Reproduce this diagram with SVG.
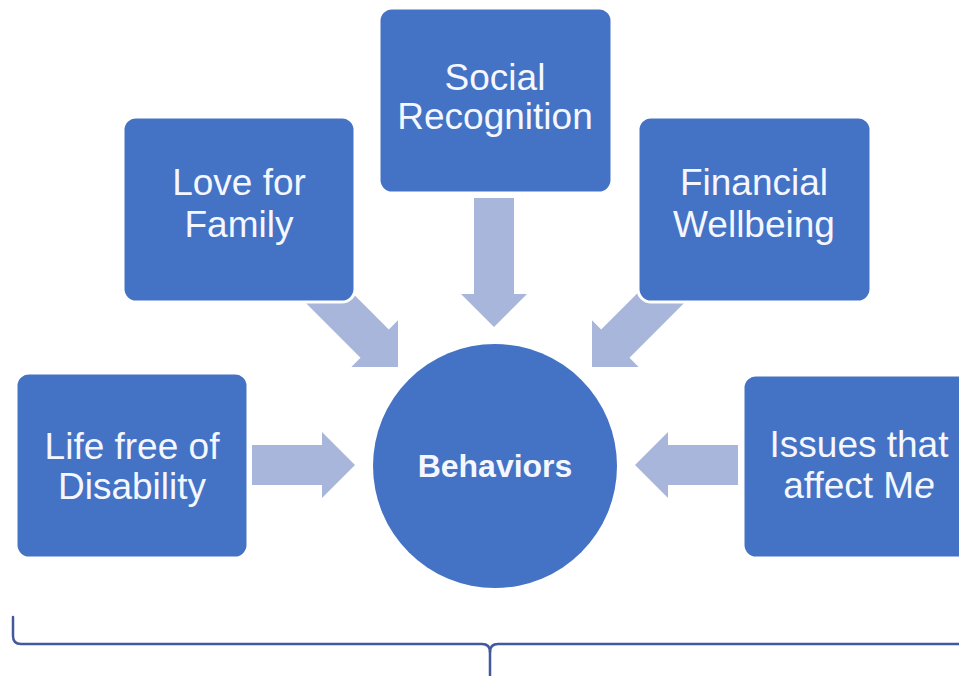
<svg xmlns="http://www.w3.org/2000/svg" width="959" height="676" viewBox="0 0 959 676">
  <style>
    .box { fill: #4472C4; stroke: #ffffff; stroke-width: 3; }
    .arrow { fill: #A9B6DC; }
    .lbl { font-family: "Liberation Sans", Arial, sans-serif; font-size: 37px; fill: #F4F7FF; text-anchor: middle; }
    .bold { font-weight: bold; font-size: 32px; }
    .brace { fill: none; stroke: #42599E; stroke-width: 2.5; stroke-linecap: round; stroke-linejoin: round; }
  </style>
  <rect width="959" height="676" fill="#ffffff"/>

  <g id="connectors">
    <path class="arrow" d="M252,445 H322 V432 L355,465 L322,498 V485 H252 Z"/>
    <path class="arrow" d="M738,445 H668 V432 L635,465 L668,498 V485 H738 Z"/>
    <path class="arrow" d="M474,198 V294 H461 L494,327 L527,294 H514 V198 Z"/>
    <path class="arrow" transform="translate(398,367) rotate(45)" d="M-110,-20 H-33 V-33 L0,0 L-33,33 V20 H-110 Z"/>
    <path class="arrow" transform="translate(592,367) rotate(135)" d="M-110,-20 H-33 V-33 L0,0 L-33,33 V20 H-110 Z"/>
  </g>

  <g id="node-social">
    <rect class="box" x="379" y="8" width="233" height="185" rx="13"/>
    <text class="lbl" x="495" y="90">Social</text>
    <text class="lbl" x="495" y="129">Recognition</text>
  </g>

  <g id="node-love">
    <rect class="box" x="123" y="117" width="232" height="185" rx="13"/>
    <text class="lbl" x="239" y="195">Love for</text>
    <text class="lbl" x="239" y="237">Family</text>
  </g>

  <g id="node-financial">
    <rect class="box" x="638" y="117" width="233" height="185" rx="13"/>
    <text class="lbl" x="754" y="195">Financial</text>
    <text class="lbl" x="754" y="237">Wellbeing</text>
  </g>

  <g id="node-life">
    <rect class="box" x="16" y="373" width="232" height="185" rx="13"/>
    <text class="lbl" x="132" y="459">Life free of</text>
    <text class="lbl" x="132" y="499">Disability</text>
  </g>

  <g id="node-issues">
    <rect class="box" x="743" y="375" width="232" height="183" rx="13"/>
    <text class="lbl" x="859" y="457">Issues that</text>
    <text class="lbl" x="859" y="498">affect M<tspan font-style="italic">e</tspan></text>
  </g>

  <g id="node-behaviors">
    <circle cx="495" cy="466" r="122" fill="#4472C4"/>
    <text class="lbl bold" x="495" y="477">Behaviors</text>
  </g>

  <g id="brace">
    <path class="brace" d="M13,617 V636 Q13,644 21,644 H482 Q490,644 490,652 V676"/>
    <path class="brace" d="M490,652 Q490,644 498,644 H962"/>
  </g>
</svg>
